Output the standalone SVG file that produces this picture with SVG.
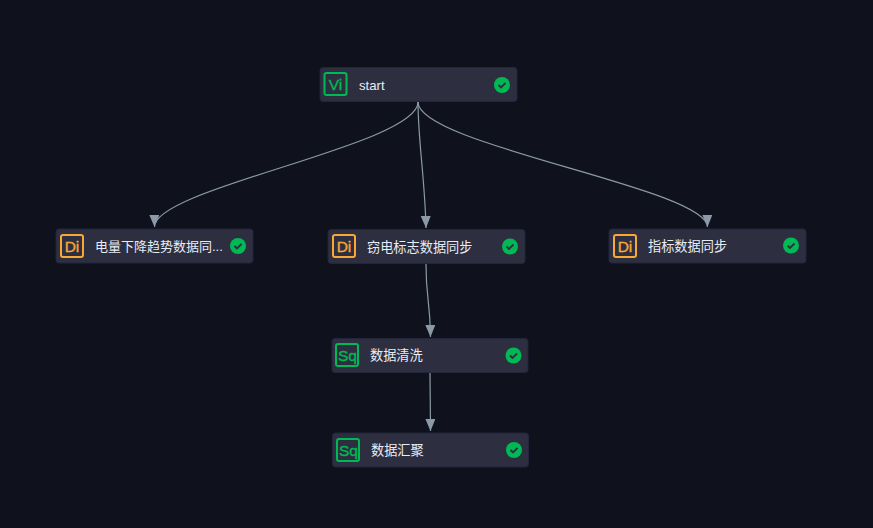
<svg xmlns="http://www.w3.org/2000/svg" width="873" height="528" viewBox="0 0 873 528">
<style>
.card{fill:#2d2f40;stroke:#23253a;stroke-width:1}
.ib{fill:none;stroke-width:2}
.g{stroke:#00b955}.o{stroke:#f8a834}
.it{font-family:"Liberation Sans",Arial,sans-serif;font-size:15.500px;stroke-width:0.350px;text-anchor:middle}
.gt{fill:#00b955;stroke:#00b955}.ot{fill:#f8a834;stroke:#f8a834}
.lb{font-family:"Liberation Sans","Noto Sans CJK SC",sans-serif;font-size:13.200px;fill:#e8ecf5}
.sm{font-size:13px}
.ok{fill:#00b955}
.ck{fill:none;stroke:#2d2f40;stroke-width:1.8}
.e{fill:none;stroke:#8c99a6;stroke-width:1.200;marker-end:url(#a)}
</style>
<defs><marker id="a" markerUnits="userSpaceOnUse" markerWidth="13" markerHeight="10" refX="12" refY="5" orient="auto"><path d="M0 0L12 5L0 10Z" fill="#8c99a6"/></marker></defs>
<rect width="873" height="528" fill="#0f121c"/>
<g id="connectors">
<path class="e" d="M418 102C418 145 154 188 154.500 227"/>
<path class="e" d="M418 102C418 140 425 180 426 228"/>
<path class="e" d="M418 102C418 145 707 188 707.500 227"/>
<path class="e" d="M426 264C426 300 430 298 430.500 337"/>
<path class="e" d="M430 373L430.500 431"/>
</g>
<g id="n-start"><rect class="card" x="320" y="67.500" width="197" height="34" rx="3"/><rect class="ib g" x="324.500" y="73" width="22" height="22" rx="2"/><text class="it gt" x="335.500" y="89.500">Vi</text><text class="lb" x="359" y="90">start</text><circle class="ok" cx="502" cy="85" r="8"/><path class="ck" d="M498.500 85L501 87.500L505.500 83"/></g>
<g id="n-1"><rect class="card" x="56" y="229" width="197" height="34" rx="3"/><rect class="ib o" x="61" y="235" width="22" height="22" rx="2"/><text class="it ot" x="72" y="251.500">Di</text><text class="lb sm" x="95" y="250.500">电量下降趋势数据同...</text><circle class="ok" cx="238" cy="246" r="8"/><path class="ck" d="M234.500 246L237 248.500L241.500 244"/></g>
<g id="n-2"><rect class="card" x="328" y="229.500" width="197" height="34" rx="3"/><rect class="ib o" x="333" y="235" width="22" height="22" rx="2"/><text class="it ot" x="344" y="251.500">Di</text><text class="lb" x="367" y="251.500">窃电标志数据同步</text><circle class="ok" cx="510" cy="246.500" r="8"/><path class="ck" d="M506.500 246.500L509 249L513.500 244.500"/></g>
<g id="n-3"><rect class="card" x="609" y="229" width="197" height="34" rx="3"/><rect class="ib o" x="614" y="235" width="22" height="22" rx="2"/><text class="it ot" x="625" y="251.500">Di</text><text class="lb" x="648" y="250.500">指标数据同步</text><circle class="ok" cx="791" cy="245.500" r="8"/><path class="ck" d="M787.500 245.500L790 248L794.500 243.500"/></g>
<g id="n-4"><rect class="card" x="332" y="338.500" width="196" height="34" rx="3"/><rect class="ib g" x="336" y="344" width="22" height="22" rx="2"/><text class="it gt" x="347.500" y="360.500">Sq</text><text class="lb" x="370" y="360">数据清洗</text><circle class="ok" cx="513.500" cy="355.500" r="8"/><path class="ck" d="M510 355.500L512.500 358L517 353.500"/></g>
<g id="n-5"><rect class="card" x="332.500" y="433" width="196" height="34" rx="3"/><rect class="ib g" x="337" y="439" width="22" height="22" rx="2"/><text class="it gt" x="348.500" y="455.500">Sq</text><text class="lb" x="371" y="454.500">数据汇聚</text><circle class="ok" cx="514" cy="450" r="8"/><path class="ck" d="M510.500 450L513 452.500L517.500 448"/></g>
</svg>
